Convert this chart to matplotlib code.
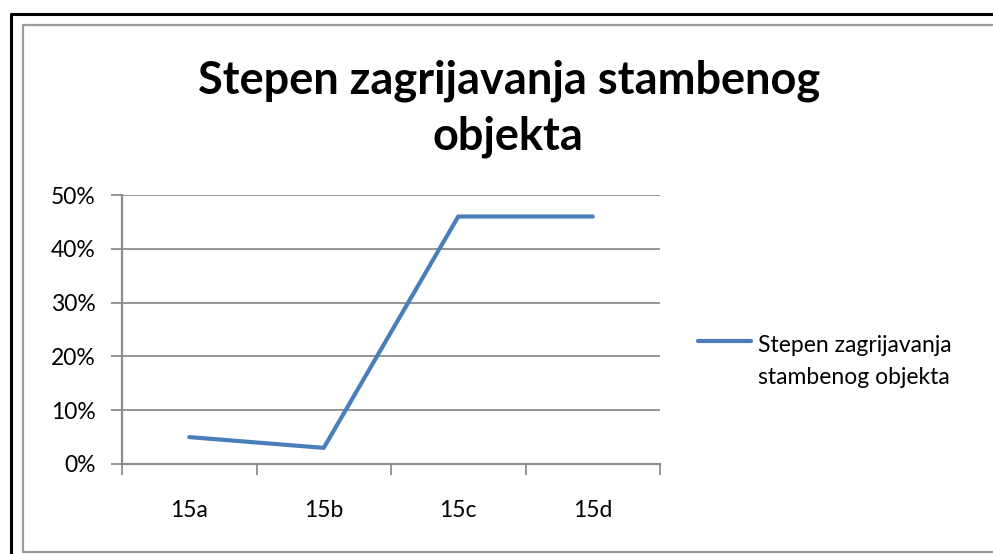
import matplotlib.pyplot as plt
from matplotlib.lines import Line2D
from matplotlib.ticker import FuncFormatter, FixedLocator

# data
categories = ['15a', '15b', '15c', '15d']
values = [0.05, 0.03, 0.46, 0.46]
series_lines = ['Stepen zagrijavanja', 'stambenog objekta']
title_lines = ['Stepen zagrijavanja stambenog', 'objekta']

W, H = 993, 554
LINE_COLOR = '#4A7EBB'
AXIS_COLOR = '#8c8c8c'

plt.rcParams['font.family'] = ['Lato', 'DejaVu Sans']
fig = plt.figure(figsize=(W / 100, H / 100), dpi=100)


def fx(px):
    return px / W


def fy(py):
    return (H - py) / H


# outer black frame (left + top only visible) and inner grey chart frame
fig.add_artist(Line2D([fx(11), fx(11), 1.0], [0.0, fy(14), fy(14)],
                      transform=fig.transFigure, color='black', linewidth=2.2))
fig.add_artist(Line2D([1.0, fx(22.5), fx(22.5), 1.0],
                      [fy(24.5), fy(24.5), fy(551.5), fy(551.5)],
                      transform=fig.transFigure, color='#9a9a9a', linewidth=1.6))

ax = fig.add_axes([fx(122), fy(464), fx(660) - fx(122), fy(195) - fy(464)])
x = range(len(categories))
ax.plot(x, values, color=LINE_COLOR, linewidth=3, solid_capstyle='round')

ax.set_xlim(-0.5, len(categories) - 0.5)
ax.set_ylim(0, 0.5)
ax.set_yticks([0, 0.1, 0.2, 0.3, 0.4, 0.5])
ax.yaxis.set_major_formatter(FuncFormatter(lambda v, p: f'{v * 100:.0f}%'))
ax.grid(axis='y', color=AXIS_COLOR, linewidth=1.3)
ax.set_axisbelow(True)

ax.set_xticks(list(x))
ax.set_xticklabels(categories)
ax.xaxis.set_minor_locator(FixedLocator([i - 0.5 for i in range(len(categories) + 1)]))
ax.tick_params(axis='x', which='major', length=0, pad=26, labelsize=16.5)
ax.tick_params(axis='x', which='minor', length=8, width=1.3, color=AXIS_COLOR)
ax.tick_params(axis='y', length=8, width=1.3, color=AXIS_COLOR, pad=11, labelsize=16.5)

for s in ['top', 'right']:
    ax.spines[s].set_visible(False)
for s in ['left', 'bottom']:
    ax.spines[s].set_color(AXIS_COLOR)
    ax.spines[s].set_linewidth(1.6)

# title, two lines
fig.text(fx(509), fy(93), title_lines[0], ha='center', va='baseline',
         fontsize=32.5, fontweight='bold')
fig.text(fx(508), fy(150), title_lines[1], ha='center', va='baseline',
         fontsize=32.5, fontweight='bold')

# legend: handle aligned with the first text line
fig.add_artist(Line2D([fx(698), fx(751)], [fy(341), fy(341)],
                      transform=fig.transFigure, color=LINE_COLOR,
                      linewidth=3, solid_capstyle='round'))
fig.text(fx(758), fy(352), series_lines[0], ha='left', va='baseline', fontsize=16.5)
fig.text(fx(758), fy(384), series_lines[1], ha='left', va='baseline', fontsize=16.5)

fig.savefig('out.png', dpi=100)
